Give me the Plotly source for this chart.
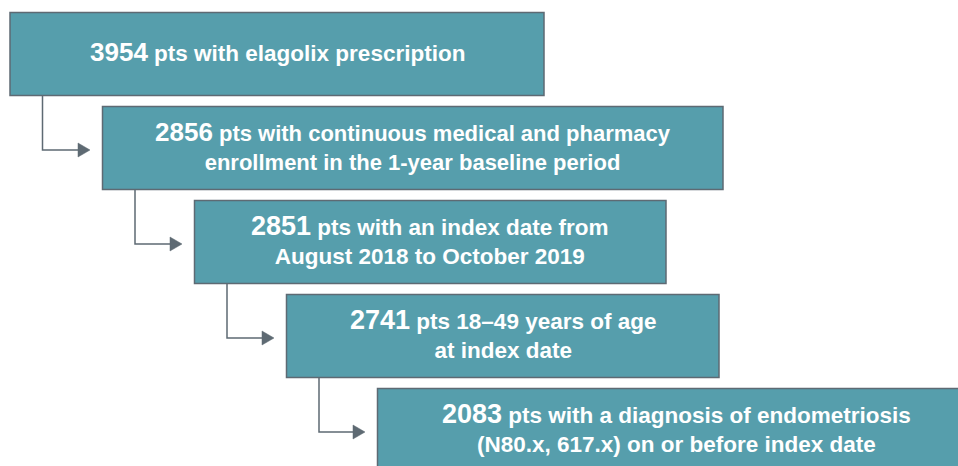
import plotly.graph_objects as go

# ---- data ----
counts = [3954, 2856, 2851, 2741, 2083]
line1 = [
    "pts with elagolix prescription",
    "pts with continuous medical and pharmacy",
    "pts with an index date from",
    "pts 18–49 years of age",
    "pts with a diagnosis of endometriosis",
]
line2 = [
    "",
    "enrollment in the 1-year baseline period",
    "August 2018 to October 2019",
    "at index date",
    "(N80.x, 617.x) on or before index date",
]

# ---- layout geometry (pixels) ----
W, H = 958, 466
box_left = [10, 102.5, 194.5, 286.5, 377.5]
box_top = [12.5, 106.5, 200.5, 294.5, 388.5]
box_right = [544, 723, 666, 719, 975]
box_h = 83
body_size = [22.5, 22, 22.5, 22.5, 22.5]
num_size = [26, 26, 27, 27, 27]

FILL = "#569EAC"
BORDER = "#5E6A73"
CONN = "#5E6A73"
FONT = "Liberation Sans, Arial, sans-serif"

fig = go.Figure()
shapes = []
annotations = []

for i, n in enumerate(counts):
    x0, x1 = box_left[i], box_right[i]
    y0, y1 = box_top[i], box_top[i] + box_h
    shapes.append(dict(type="rect", xref="x", yref="y", x0=x0, x1=x1, y0=y0, y1=y1,
                       fillcolor=FILL, line=dict(color=BORDER, width=1.5), layer="above"))
    txt = f"<b><span style='font-size:{num_size[i]}px'>{n}</span> {line1[i]}"
    if line2[i]:
        txt += f"<br>{line2[i]}"
    txt += "</b>"
    annotations.append(dict(x=(x0 + x1) / 2, y=(y0 + y1) / 2 - 2, xref="x", yref="y",
                            text=txt, showarrow=False, xanchor="center", yanchor="middle",
                            align="center",
                            font=dict(family=FONT, size=body_size[i], color="white")))

# connectors
for i in range(len(counts) - 1):
    cx = box_left[i] + 32.5
    yb = box_top[i] + box_h
    yc = box_top[i + 1] + 43.5
    tip = box_left[i + 1] - 12.5
    shapes.append(dict(type="path", xref="x", yref="y",
                       path=f"M {cx} {yb} L {cx} {yc} L {tip - 11} {yc}",
                       line=dict(color=CONN, width=1.5)))
    shapes.append(dict(type="path", xref="x", yref="y",
                       path=f"M {tip - 12} {yc - 7} L {tip} {yc} L {tip - 12} {yc + 7} Z",
                       fillcolor=CONN, line=dict(color=CONN, width=0.5)))

fig.update_layout(
    width=W, height=H,
    margin=dict(l=0, r=0, t=0, b=0),
    paper_bgcolor="white", plot_bgcolor="white",
    xaxis=dict(range=[0, W], visible=False, fixedrange=True),
    yaxis=dict(range=[H, 0], visible=False, fixedrange=True),
    shapes=shapes, annotations=annotations,
    showlegend=False,
)

fig.write_html("out.html", config={"displayModeBar": False},
               post_script="document.body.style.margin='0';document.body.style.overflow='hidden';")
